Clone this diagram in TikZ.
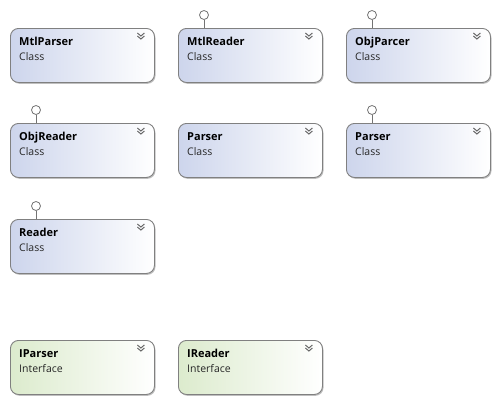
\documentclass[tikz,border=0pt]{standalone}
\usepackage{fontspec}
\setmainfont{Open Sans}
\begin{document}
\begin{tikzpicture}[x=1pt,y=-1pt,
  box/.style={draw=black!50, rounded corners=8pt, minimum width=144pt, minimum height=54pt, anchor=north west, inner sep=0pt, line width=0.9pt},
  cls/.style={box, left color={rgb,255:red,205;green,213;blue,236}, right color=white},
  ifc/.style={box, left color={rgb,255:red,220;green,235;blue,205}, right color=white},
  shd/.style={fill=black!25, rounded corners=8pt},
  ttl/.style={anchor=base west, font=\fontsize{11}{13}\selectfont\bfseries, inner sep=0pt},
  sub/.style={anchor=base west, font=\fontsize{10.5}{12}\selectfont, inner sep=0pt, text=black!85},
  chev/.style={line width=1pt, draw=black!60},
  lolli/.style={circle, draw=black!55, fill=white, minimum size=9pt, inner sep=0pt, line width=0.8pt},
  stem/.style={draw=black!55, line width=0.8pt}
]
\useasboundingbox (0,0) rectangle (499,402);
% shadows
\foreach \x/\y in {10/28,178/28,346/28,10/123,178/123,346/123,10/219,10/340,178/340}{
  \fill[shd] (\x+1.5,\y+1.8) rectangle ++(144,54);
}
% class boxes
\node[cls] (b1) at (10,28) {};
\node[cls] (b2) at (178,28) {};
\node[cls] (b3) at (346,28) {};
\node[cls] (b4) at (10,123) {};
\node[cls] (b5) at (178,123) {};
\node[cls] (b6) at (346,123) {};
\node[cls] (b7) at (10,219) {};
\node[ifc] (b8) at (10,340) {};
\node[ifc] (b9) at (178,340) {};
% labels
\foreach \n/\t/\s in {b1/MtlParser/Class, b2/MtlReader/Class, b3/ObjParcer/Class, b4/ObjReader/Class, b5/Parser/Class, b6/Parser/Class, b7/Reader/Class, b8/IParser/Interface, b9/IReader/Interface}{
  \node[ttl] (\n t) at ([xshift=9pt,yshift=-17pt]\n.north west) {\t};
  \node[sub] (\n s) at ([xshift=9pt,yshift=-32pt]\n.north west) {\s};
  \coordinate (\n c) at ([xshift=-14pt,yshift=-5pt]\n.north east);
  \draw[chev] ([xshift=-3.5pt,yshift=-0pt]\n c) -- ([yshift=-3pt]\n c) -- ([xshift=3.5pt]\n c);
  \draw[chev] ([xshift=-3.5pt,yshift=-3pt]\n c) -- ([yshift=-6pt]\n c) -- ([xshift=3.5pt,yshift=-3pt]\n c);
}
% lollipops
\foreach \n in {b2,b3,b4,b6,b7}{
  \node[lolli] (\n l) at ([xshift=26pt,yshift=13pt]\n.north west) {};
  \draw[stem] (\n l.south) -- (\n l.south |- \n.north);
}
\end{tikzpicture}
\end{document}
